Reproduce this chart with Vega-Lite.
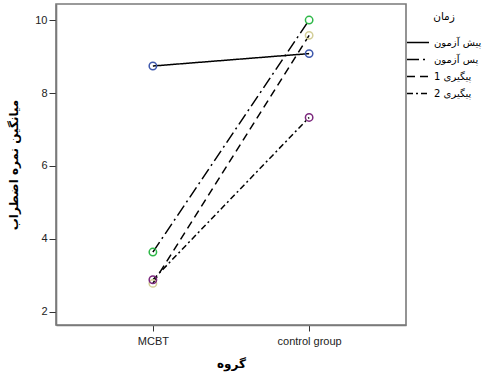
{
  "$schema": "https://vega.github.io/schema/vega-lite/v6.json",
  "width": 350,
  "height": 321,
  "autosize": {"type": "none"},
  "padding": {"left": 56, "top": 4, "right": 76, "bottom": 53},
  "background": "white",
  "config": {
    "font": "Liberation Sans, DejaVu Sans, sans-serif",
    "view": {"stroke": "#7a7a7a", "strokeWidth": 1.6},
    "axis": {"grid": false, "domainColor": "#7a7a7a", "domainWidth": 1.6, "tickColor": "#333", "labelColor": "#222", "labelFontSize": 11, "titleFontSize": 12, "titleFontWeight": "bold", "titleColor": "#000", "labelFont": "Liberation Sans", "titleFont": "DejaVu Sans"}
  },
  "data": {"values": [
    {"group": "MCBT", "time": "پیش آزمون", "series": "s1", "value": 8.74},
    {"group": "control group", "time": "پیش آزمون", "series": "s1", "value": 9.08},
    {"group": "MCBT", "time": "پس آزمون", "series": "s2", "value": 3.64},
    {"group": "control group", "time": "پس آزمون", "series": "s2", "value": 10.0},
    {"group": "MCBT", "time": "پیگیری 1", "series": "s3", "value": 2.78},
    {"group": "control group", "time": "پیگیری 1", "series": "s3", "value": 9.58},
    {"group": "MCBT", "time": "پیگیری 2", "series": "s4", "value": 2.88},
    {"group": "control group", "time": "پیگیری 2", "series": "s4", "value": 7.33}
  ]},
  "encoding": {
    "x": {"field": "group", "type": "nominal", "sort": ["MCBT", "control group"],
      "scale": {"type": "point", "padding": 0.62},
      "axis": {"title": "گروه", "labelAngle": 0, "tickSize": 6, "labelPadding": 4, "titlePadding": 12}},
    "y": {"field": "value", "type": "quantitative",
      "scale": {"domain": [1.64, 10.44], "nice": false, "zero": false},
      "axis": {"title": "میانگین نمره اضطراب", "values": [2, 4, 6, 8, 10], "tickSize": 7, "labelPadding": 2, "titlePadding": 14}}
  },
  "layer": [
    {
      "mark": {"type": "line", "color": "black", "strokeWidth": 1.5},
      "encoding": {
        "strokeDash": {"field": "time", "type": "nominal",
          "scale": {"domain": ["پیش آزمون", "پس آزمون", "پیگیری 1", "پیگیری 2"],
            "range": [[1, 0], [12, 4, 2, 4], [8, 5], [6, 3, 2, 3]]},
          "legend": {"title": "زمان", "orient": "none", "legendX": 350, "legendY": 8,
            "symbolType": "stroke", "symbolSize": 484, "symbolStrokeColor": "black", "symbolStrokeWidth": 1.5,
            "labelFontSize": 10, "labelFont": "DejaVu Sans", "labelColor": "#000", "titleFontSize": 10.5, "titleFontWeight": "normal", "titleFont": "DejaVu Sans",
            "titleAnchor": "middle", "titlePadding": 8, "rowPadding": -8, "labelOffset": 4}}
      }
    },
    {
      "mark": {"type": "point", "filled": false, "size": 55, "strokeWidth": 1.5, "opacity": 1},
      "encoding": {
        "color": {"field": "series", "type": "nominal",
          "scale": {"domain": ["s1", "s2", "s3", "s4"],
            "range": ["#3E58AC", "#2EB848", "#D3CE97", "#7C287D"]},
          "legend": null}
      }
    }
  ]
}
